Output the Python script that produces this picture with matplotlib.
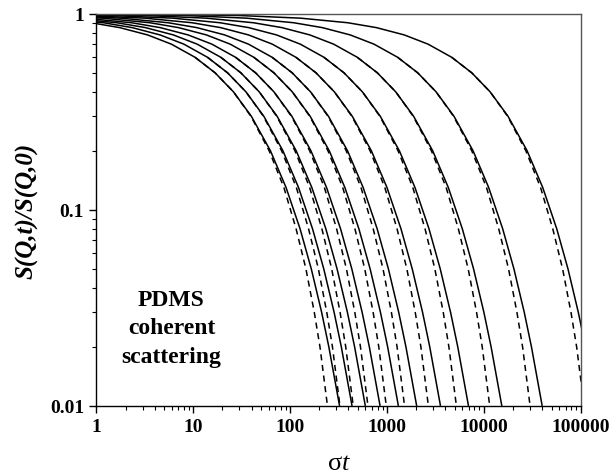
"""
plot.py
-------
PDMS coherent scattering: normalised intermediate scattering function
S(Q,t)/S(Q,0) against reduced time, one solid/dashed pair per Q.
"""

import matplotlib
matplotlib.use("Agg")
import matplotlib.pyplot as plt
from matplotlib.ticker import LogLocator, FixedLocator, NullFormatter


levels = [0.999, 0.995, 0.98, 0.95, 0.9, 0.85, 0.78, 0.7, 0.6, 0.5,
          0.4, 0.3, 0.2, 0.13, 0.08, 0.05, 0.03, 0.02, 0.01]

# sigma*t where each solid curve crosses the levels above (fast Q -> slow Q)
solid_t = [
    [6.13e-4, 7.59e-3, 0.0670, 0.2874, 0.885, 1.742, 3.382, 5.949, 10.43, 16.8,
     25.98, 39.81, 62.66, 90.77, 126.7, 165.4, 211.6, 251.0, 323.9],
    [8.25e-4, 0.01022, 0.0902, 0.3867, 1.191, 2.344, 4.549, 8.003, 14.03, 22.6,
     34.96, 53.56, 84.29, 122.1, 170.4, 222.5, 284.6, 337.7, 435.8],
    [1.13e-3, 0.0140, 0.1237, 0.5304, 1.633, 3.215, 6.240, 10.98, 19.24, 31.0,
     47.95, 73.46, 115.6, 167.5, 233.8, 305.2, 390.4, 463.2, 597.7],
    [1.61e-3, 0.0199, 0.1756, 0.7528, 2.318, 4.563, 8.857, 15.58, 27.32, 44.0,
     68.05, 104.3, 164.1, 237.7, 331.8, 433.3, 554.1, 657.4, 848.4],
    [2.48e-3, 0.0307, 0.2713, 1.163, 3.583, 7.052, 13.69, 24.08, 42.21, 68.0,
     105.2, 161.1, 253.6, 367.4, 512.8, 669.6, 856.3, 1016, 1311],
    [3.83e-3, 0.0475, 0.419, 1.797, 5.532, 10.89, 21.14, 37.18, 65.18, 105,
     162.4, 248.8, 391.6, 567.3, 791.9, 1034, 1322, 1569, 2025],
    [6.75e-3, 0.0836, 0.738, 3.165, 9.748, 19.18, 37.24, 65.51, 114.8, 185,
     286.1, 438.4, 690.0, 999.5, 1395, 1822, 2330, 2764, 3567],
    [0.01314, 0.1627, 1.436, 6.160, 18.97, 37.33, 72.47, 127.5, 223.5, 360,
     556.8, 853.1, 1343, 1945, 2715, 3545, 4533, 5379, 6941],
    [0.0290, 0.3593, 3.172, 13.60, 41.89, 82.44, 160.0, 281.5, 493.5, 795,
     1230, 1884, 2965, 4295, 5996, 7828, 10011, 11879, 15328],
    [0.0757, 0.9379, 8.279, 35.50, 109.3, 215.2, 417.7, 734.8, 1288, 2075,
     3209, 4917, 7739, 11211, 15649, 20432, 26130, 31005, 40008],
    [0.2738, 3.39, 29.93, 128.3, 395.2, 777.8, 1510, 2656, 4656, 7500,
     11600, 17773, 27974, 40521, 56564, 73850, 94448, 112065, 144608],
]

# dashed curves coincide with the solid ones above ~0.4 and fall faster below
dashed_levels = [0.6, 0.5, 0.4, 0.3, 0.2, 0.13, 0.08, 0.05, 0.03, 0.02, 0.01]

dashed_t = [
    [10.43, 16.8, 25.98, 39.41, 60.78, 86.23, 115.3, 145.6, 177.7, 203.3, 242.9],
    [14.03, 22.6, 34.96, 53.02, 81.77, 116.0, 155.1, 195.8, 239.1, 273.5, 326.8],
    [19.24, 31.0, 47.95, 72.73, 112.2, 159.1, 212.8, 268.6, 328.0, 375.1, 448.3],
    [27.32, 44.0, 68.05, 103.2, 159.2, 225.9, 302.0, 381.3, 465.5, 532.4, 636.2],
    [42.21, 68.0, 105.2, 159.5, 246.0, 349.0, 466.7, 589.2, 719.4, 822.8, 983.3],
    [65.18, 105, 162.4, 246.3, 379.9, 539.0, 720.6, 909.8, 1111, 1271, 1518],
    [114.8, 185, 286.1, 434.0, 669.3, 949.6, 1270, 1603, 1957, 2239, 2675],
    [223.5, 360, 556.8, 844.6, 1302, 1848, 2471, 3119, 3809, 4356, 5206],
    [493.5, 795, 1230, 1865, 2876, 4081, 5456, 6889, 8411, 9620, 11496],
    [1288, 2075, 3209, 4868, 7507, 10651, 14241, 17980, 21954, 25108, 30005],
    [4656, 7500, 11600, 17595, 27135, 38498, 51473, 64988, 79350, 90750, 108450],
]

x_ticks = [1, 10, 100, 1000, 10000, 100000]
x_tick_labels = ["1", "10", "100", "1000", "10000", "100000"]
y_ticks = [0.01, 0.1, 1]
y_tick_labels = ["0.01", "0.1", "1"]

annotation = "PDMS\ncoherent\nscattering"


def style_axes(ax):
    ax.set_xscale("log")
    ax.set_yscale("log")
    ax.set_xlim(1, 100000)
    ax.set_ylim(0.01, 1)

    ax.xaxis.set_major_locator(FixedLocator(x_ticks))
    ax.yaxis.set_major_locator(FixedLocator(y_ticks))
    ax.xaxis.set_minor_locator(LogLocator(base=10, subs=range(2, 10)))
    ax.yaxis.set_minor_locator(LogLocator(base=10, subs=range(2, 10)))
    ax.xaxis.set_minor_formatter(NullFormatter())
    ax.yaxis.set_minor_formatter(NullFormatter())
    ax.set_xticklabels(x_tick_labels, fontsize=14, fontweight="bold")
    ax.set_yticklabels(y_tick_labels, fontsize=14, fontweight="bold")

    ax.tick_params(which="major", direction="out", length=5, width=1.0,
                   top=False, right=False, pad=4)
    ax.tick_params(which="minor", direction="out", length=3, width=0.8,
                   top=False, right=False)

    for side in ("left", "bottom"):
        ax.spines[side].set_linewidth(1.0)
        ax.spines[side].set_color("black")
    for side in ("top", "right"):
        ax.spines[side].set_linewidth(1.0)
        ax.spines[side].set_color("#555555")


def main():
    plt.rcParams["font.family"] = ["Liberation Serif", "DejaVu Serif"]
    plt.rcParams["mathtext.fontset"] = "custom"
    plt.rcParams["mathtext.rm"] = "Liberation Serif"
    plt.rcParams["mathtext.it"] = "Liberation Serif:italic"

    fig = plt.figure(figsize=(6.10, 4.77), dpi=100)
    ax = fig.add_axes([0.158, 0.147, 0.794, 0.822])

    for t_vals in solid_t:
        ax.plot(t_vals, levels, color="black", linewidth=1.1,
                linestyle="-", solid_capstyle="butt")
    for t_vals in dashed_t:
        ax.plot(t_vals, dashed_levels, color="black", linewidth=1.1,
                linestyle=(0, (4, 3)))

    style_axes(ax)

    ax.set_xlabel(r"$\mathrm{\sigma}t$", fontsize=19, labelpad=12)
    ax.set_ylabel("S(Q,t)/S(Q,0)", fontsize=18, fontweight="bold",
                  fontstyle="italic", labelpad=8)

    ax.text(0.155, 0.199, annotation, transform=ax.transAxes,
            ha="center", va="center", fontsize=17, fontweight="bold",
            linespacing=1.45)

    fig.savefig("out.png", dpi=100)
    plt.close(fig)


if __name__ == "__main__":
    main()
